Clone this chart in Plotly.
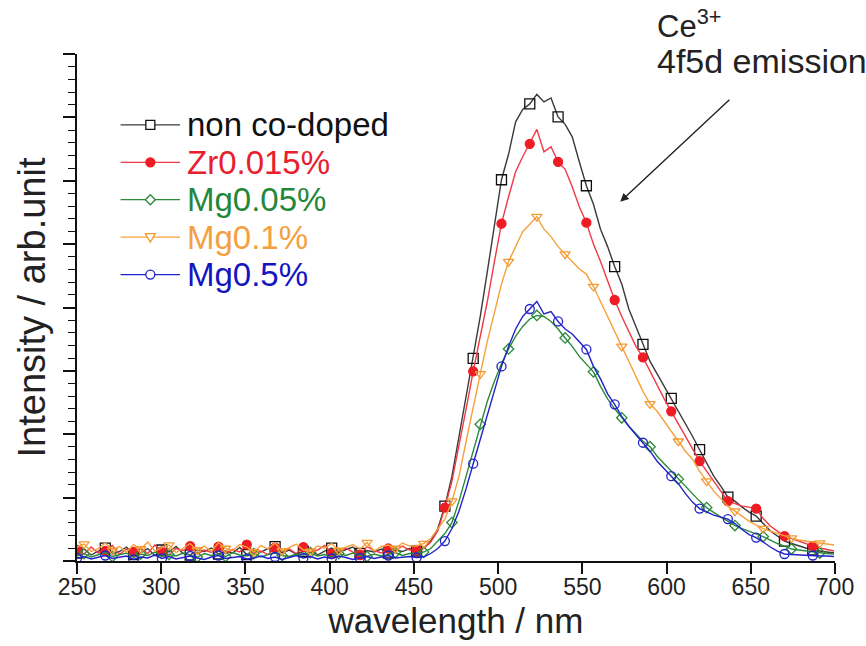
import plotly.graph_objects as go

# ---------------- data ----------------
WAVELENGTH = [250.0, 254.2, 258.4, 262.6, 266.8, 271.0, 275.2, 279.4, 283.6, 287.8,
              292.0, 296.2, 300.4, 304.6, 308.8, 313.0, 317.2, 321.4, 325.6, 329.8,
              334.0, 338.2, 342.4, 346.6, 350.8, 355.0, 359.2, 363.4, 367.6, 371.8,
              376.0, 380.2, 384.4, 388.6, 392.8, 397.0, 401.2, 405.4, 409.6, 413.8,
              418.0, 422.2, 426.4, 430.6, 434.8, 439.0, 443.2, 447.4, 451.6, 455.8,
              460.0, 464.2, 468.4, 472.6, 476.8, 481.0, 485.2, 489.4, 493.6, 497.8,
              502.0, 506.2, 510.4, 514.6, 518.8, 523.0, 527.2, 531.4, 535.6, 539.8,
              544.0, 548.2, 552.4, 556.6, 560.8, 565.0, 569.2, 573.4, 577.6, 581.8,
              586.0, 590.2, 594.4, 598.6, 602.8, 607.0, 611.2, 615.4, 619.6, 623.8,
              628.0, 632.2, 636.4, 640.6, 644.8, 649.0, 653.2, 657.4, 661.6, 665.8,
              670.0, 674.2, 678.4, 682.6, 686.8, 691.0, 695.2, 699.4]

non_codoped = [1.6, 2.4, 1.2, 2.0, 2.6, 1.4, 1.9, 2.8, 1.3, 1.7,
               2.5, 1.1, 2.2, 1.8, 2.9, 1.5, 1.2, 2.3, 1.9, 2.6,
               1.4, 2.0, 1.6, 2.7, 1.3, 2.1, 1.8, 2.5, 2.9, 1.6,
               2.2, 1.4, 1.9, 2.4, 1.2, 2.0, 2.6, 1.7, 2.3, 2.8,
               1.5, 2.1, 1.8, 2.4, 1.6, 2.2, 1.9, 2.5,
               2.0, 2.6, 4.0, 6.5, 11.0, 17.0, 25.0, 33.0, 40.6, 49.0,
               58.0, 67.0, 76.4, 81.5, 88.0, 90.5, 91.6, 93.5, 92.0, 92.8,
               89.0, 87.5, 85.0, 80.0, 75.2, 71.5, 66.5, 63.0, 59.0, 55.5,
               50.5, 47.0, 43.4, 40.0, 37.5, 35.0, 32.6, 30.0, 27.5, 25.0,
               22.3, 19.5, 17.0, 15.0, 12.8, 12.0, 10.8, 9.8, 9.0, 7.5,
               6.0, 5.0, 4.0, 3.5, 3.0, 2.6, 2.2, 2.0, 1.8, 1.6]

zr0015 = [2.2, 1.4, 2.8, 1.6, 2.0, 3.1, 1.3, 2.4, 1.8, 2.6,
          1.5, 3.2, 1.9, 1.2, 2.5, 2.1, 3.0, 1.4, 2.2, 1.7,
          2.9, 1.5, 2.3, 1.8, 3.3, 1.6, 2.0, 1.3, 2.7, 1.9,
          2.4, 1.5, 2.8, 1.7, 2.2, 3.1, 1.4, 2.0, 2.6, 1.8,
          1.2, 2.9, 2.1, 1.6, 2.5, 1.9, 3.0, 2.2,
          2.2, 2.5, 3.8, 6.0, 10.7, 16.0, 23.0, 30.5, 38.0, 45.0,
          52.0, 60.0, 67.6, 73.0, 78.0, 81.0, 83.6, 86.5, 82.0, 83.0,
          80.0, 78.5, 75.0, 71.0, 67.8, 63.5, 60.0, 56.0, 52.3, 49.0,
          46.0, 43.0, 40.8, 38.0, 35.5, 32.5, 30.0, 27.5, 25.0, 22.5,
          20.0, 18.0, 16.0, 14.0, 12.0, 11.5, 11.0, 10.8, 10.5, 8.5,
          7.0, 6.0, 5.0, 4.5, 4.0, 3.4, 3.0, 2.6, 2.3, 2.0]

mg005 = [1.0, 1.5, 0.8, 1.3, 1.7, 0.9, 1.2, 1.6, 0.7, 1.4,
         1.1, 1.8, 0.9, 1.3, 1.0, 1.6, 1.2, 0.8, 1.5, 1.1,
         1.4, 0.9, 1.7, 1.2, 1.0, 1.5, 0.8, 1.3, 1.6, 1.1,
         0.9, 1.4, 1.2, 1.7, 1.0, 1.3, 0.8, 1.5, 1.1, 1.6,
         1.2, 0.9, 1.4, 1.0, 1.3, 1.7, 1.1, 1.5,
         1.6, 1.8, 2.5, 4.0, 5.5, 7.7, 12.0, 17.0, 22.0, 27.4,
         32.0, 36.0, 39.5, 42.5, 45.0, 47.0, 48.5, 49.2, 49.0, 48.0,
         46.5, 44.7, 43.0, 41.0, 39.5, 37.9, 35.0, 32.5, 30.5, 28.7,
         27.0, 25.5, 24.0, 22.9, 21.0, 19.5, 18.0, 16.4, 15.0, 13.5,
         12.0, 10.7, 9.7, 8.8, 8.0, 7.1, 6.5, 6.0, 5.5, 4.9,
         4.2, 3.5, 3.0, 2.4, 2.2, 2.0, 1.8, 1.6, 1.5, 1.4]

mg01 = [2.8, 3.4, 1.9, 2.5, 3.6, 2.1, 2.9, 1.8, 3.3, 2.4,
        3.8, 2.0, 2.7, 3.2, 1.7, 2.6, 3.5, 2.2, 3.0, 1.9,
        3.7, 2.5, 2.1, 3.3, 2.8, 1.8, 3.1, 2.4, 3.6, 2.0,
        2.7, 3.4, 2.2, 1.9, 3.0, 2.6, 3.5, 2.1, 2.8, 3.3,
        2.4, 3.7, 2.0, 2.9, 3.2, 2.5, 3.6, 3.0,
        3.0, 3.5, 4.5, 6.5, 8.4, 12.0, 17.0, 24.0, 31.0, 37.5,
        44.0, 50.0, 55.5, 60.0, 63.0, 66.0, 67.5, 69.0, 66.5, 65.0,
        63.0, 61.5, 60.0, 58.5, 57.5, 55.0, 52.0, 49.0, 46.0, 43.0,
        40.0, 37.0, 34.0, 31.5, 30.0, 28.0, 26.0, 24.0, 22.0, 20.4,
        18.0, 16.0, 14.0, 12.5, 11.0, 10.0, 9.0, 8.0, 7.2, 6.5,
        6.0, 5.5, 5.0, 4.6, 4.2, 4.0, 3.8, 3.6, 3.4, 3.2]

mg05 = [0.6, 0.9, 0.4, 0.8, 1.1, 0.5, 0.7, 1.0, 0.3, 0.8,
        0.6, 1.2, 0.5, 0.9, 0.4, 0.7, 1.0, 0.6, 0.3, 0.8,
        1.1, 0.5, 0.7, 0.9, 0.4, 0.6, 1.0, 0.5, 0.8, 0.3,
        0.7, 1.1, 0.6, 0.9, 0.4, 0.8, 0.5, 1.0, 0.7, 0.3,
        0.6, 0.9, 0.5, 0.8, 1.1, 0.6, 0.7, 0.9,
        0.7, 0.8, 1.5, 2.5, 4.0, 6.5, 10.0, 14.5, 19.5, 24.5,
        29.5, 34.5, 39.0, 43.0, 46.5, 49.0, 50.5, 52.0, 49.5, 50.0,
        48.0, 46.5, 45.5, 44.0, 42.4, 39.0, 36.5, 33.5, 31.4, 29.0,
        27.0, 25.3, 23.7, 22.0, 20.0, 18.5, 17.0, 15.5, 13.5, 11.8,
        10.5, 9.8, 9.2, 8.8, 8.4, 7.5, 6.3, 5.3, 4.7, 3.8,
        2.8, 2.0, 1.4, 1.3, 1.2, 1.1, 1.1, 1.0, 1.0, 0.9]

SERIES_NAMES = ["non co-doped", "Zr0.015%", "Mg0.05%", "Mg0.1%", "Mg0.5%"]
X_TICKS = [250, 300, 350, 400, 450, 500, 550, 600, 650, 700]
Y_MAX = 101.6          # arbitrary units, axis top
Y_MAJOR = 12.7         # 8 unlabeled major intervals
Y_MINOR = 2.54         # 5 minor intervals per major

# ---------------- styles ----------------
FONT = "Liberation Sans, Arial, Helvetica, sans-serif"
styles = [
    dict(line="#3a3a3a", mcol="#111111", sym="square-open", size=10, off=0, text="#111111"),
    dict(line="#f03a45", mcol="#ee1c25", sym="circle", size=9, off=0, text="#e8202e"),
    dict(line="#2a8a3a", mcol="#2a8a3a", sym="diamond-open", size=8, off=1, text="#23873a"),
    dict(line="#f6a13c", mcol="#f49a30", sym="triangle-down-open", size=9, off=1, text="#f4a040"),
    dict(line="#2222c8", mcol="#2222c8", sym="circle-open", size=9, off=0, text="#1515c0"),
]
values = [non_codoped, zr0015, mg005, mg01, mg05]

fig = go.Figure()
for name, ys, st in zip(SERIES_NAMES, values, styles):
    fig.add_trace(go.Scatter(x=WAVELENGTH, y=ys, mode="lines", name=name,
                             line=dict(color=st["line"], width=1.4),
                             showlegend=False, hoverinfo="skip"))
    fig.add_trace(go.Scatter(x=WAVELENGTH[st["off"]::4], y=ys[st["off"]::4], mode="markers",
                             name=name,
                             marker=dict(symbol=st["sym"], size=st["size"], color=st["mcol"],
                                         line=dict(color=st["mcol"], width=1.3)),
                             showlegend=False))

# ---------------- hand-drawn legend (line sample, symbol, coloured label) ----------------
PLOT_L, PLOT_W, PLOT_B, PLOT_H = 77, 765, 562, 508


def px_x(px):
    return (px - PLOT_L) / PLOT_W


def px_y(py):
    return (PLOT_B - py) / PLOT_H


LEG_ROW0, LEG_ROW_GAP = 125, 37.5
sym_paths = {
    "diamond-open": "M-5,0 L0,5 L5,0 L0,-5 Z",
    "triangle-down-open": "M-5,3.5 L5,3.5 L0,-5 Z",
}
for i, (name, st) in enumerate(zip(SERIES_NAMES, styles)):
    yp = px_y(LEG_ROW0 + i * LEG_ROW_GAP)
    fig.add_shape(type="line", xref="paper", yref="paper", x0=px_x(121), x1=px_x(181),
                  y0=yp, y1=yp, line=dict(color=st["line"], width=1.2))
    common = dict(xref="paper", yref="paper", xsizemode="pixel", ysizemode="pixel",
                  xanchor=px_x(151), yanchor=yp, line=dict(color=st["mcol"], width=1.3))
    if st["sym"] == "square-open":
        fig.add_shape(type="rect", x0=-4.5, x1=4.5, y0=-4.5, y1=4.5, fillcolor="white", **common)
    elif st["sym"] == "circle":
        fig.add_shape(type="circle", x0=-4.5, x1=4.5, y0=-4.5, y1=4.5, fillcolor=st["mcol"], **common)
    elif st["sym"] == "circle-open":
        fig.add_shape(type="circle", x0=-4.5, x1=4.5, y0=-4.5, y1=4.5, fillcolor="white", **common)
    else:
        fig.add_shape(type="path", path=sym_paths[st["sym"]], fillcolor="white", **common)
    fig.add_annotation(xref="paper", yref="paper", x=px_x(186), y=yp, xanchor="left",
                       yanchor="middle", text=name, showarrow=False,
                       font=dict(size=33, color=st["text"], family=FONT))

fig.update_layout(
    width=866, height=646,
    margin=dict(l=PLOT_L, r=866 - PLOT_L - PLOT_W, t=PLOT_B - PLOT_H, b=646 - PLOT_B),
    paper_bgcolor="white", plot_bgcolor="white",
    font=dict(family=FONT, color="#222222"),
    showlegend=False,
    xaxis=dict(range=[250, 700], tickvals=X_TICKS, ticks="outside", ticklen=11, tickwidth=1.5,
               tickcolor="#111", showline=True, linecolor="#111", linewidth=1.5,
               showgrid=False, zeroline=False, tickfont=dict(size=23, color="#222"),
               ticklabelstandoff=-6,
               title=dict(text="wavelength / nm", font=dict(size=35, color="#222"), standoff=9)),
    yaxis=dict(range=[0, Y_MAX], dtick=Y_MAJOR, tick0=0, ticks="outside", ticklen=12, tickwidth=1.5,
               tickcolor="#111", showline=True, linecolor="#111", linewidth=1.5,
               showticklabels=False, showgrid=False, zeroline=False,
               minor=dict(dtick=Y_MINOR, tick0=0, ticks="outside", ticklen=7, tickwidth=1.3,
                          tickcolor="#111"),
               title=dict(text="Intensity / arb.unit", font=dict(size=38, color="#222"), standoff=6)),
)

fig.add_annotation(xref="paper", yref="paper", x=px_x(660), y=px_y(46), xanchor="left",
                   yanchor="bottom", text="Ce<sup>3+</sup>", showarrow=False,
                   font=dict(size=31, color="#222", family=FONT))
fig.add_annotation(xref="paper", yref="paper", x=px_x(660), y=px_y(82), xanchor="left",
                   yanchor="bottom", text="4f5d emission", showarrow=False,
                   font=dict(size=34, color="#222", family=FONT))
fig.add_annotation(x=572.5, y=72, ax=638.2, ay=92.7, xref="x", yref="y", axref="x", ayref="y",
                   text="", showarrow=True, arrowhead=2, arrowsize=1.2, arrowwidth=1.4,
                   arrowcolor="#222")

fig.write_html("out.html")
